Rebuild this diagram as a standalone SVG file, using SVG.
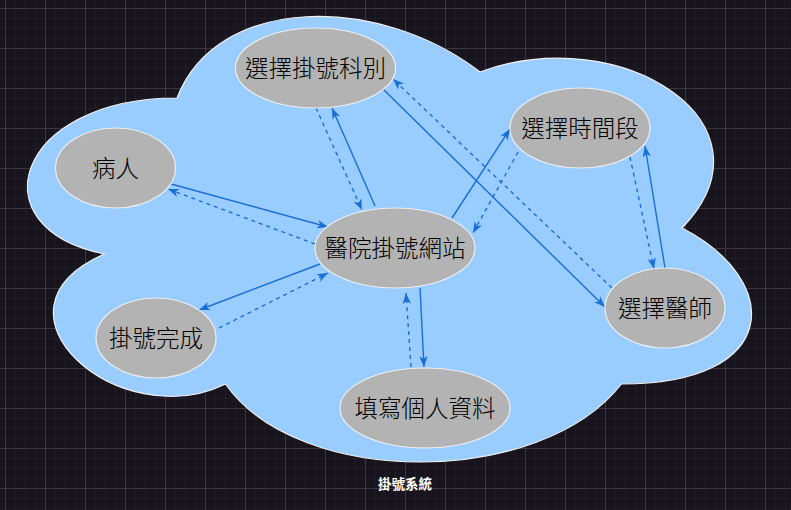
<svg xmlns="http://www.w3.org/2000/svg" width="791" height="510" viewBox="0 0 791 510">
  <defs>
    <pattern id="gridMinor" x="5" y="8" width="10" height="10" patternUnits="userSpaceOnUse">
      <path d="M0,0 H10 M0,0 V10" fill="none" stroke="#27232d" stroke-width="1"/>
    </pattern>
    <pattern id="gridMajor" x="5" y="8" width="40" height="40" patternUnits="userSpaceOnUse">
      <path d="M0,0.5 H40 M0.5,0 V40" fill="none" stroke="#3a3741" stroke-width="1"/>
    </pattern>
    <marker id="arrow" markerUnits="userSpaceOnUse" markerWidth="12" markerHeight="10" viewBox="0 0 12 10" refX="11" refY="5" orient="auto">
      <path d="M0,0.8 L11,5 L0,9.2 L3,5 Z" fill="#1a6fd6"/>
    </marker>
    <style>
      .node ellipse { fill: #b3b3b3; stroke: #eeeeee; stroke-width: 1.2; }
      .node text { font-family: "Noto Sans CJK TC", "Noto Sans CJK SC", sans-serif; font-size: 23.5px; font-weight: 300; fill: #000000; text-anchor: middle; dominant-baseline: central; }
      .edge { fill: none; stroke: #1a6fd6; stroke-width: 1.4; marker-end: url(#arrow); }
      .dash { stroke-dasharray: 4 4; }
      .caption { font-family: "Noto Sans CJK TC", "Noto Sans CJK SC", sans-serif; font-size: 13.5px; font-weight: bold; fill: #ffffff; text-anchor: middle; dominant-baseline: central; }
    </style>
  </defs>

  <!-- canvas with grid -->
  <rect width="791" height="510" fill="#18141d"/>
  <rect width="791" height="510" fill="url(#gridMinor)"/>
  <rect width="791" height="510" fill="url(#gridMajor)"/>

  <!-- system boundary cloud -->
  <g id="system-cloud">
    <path d="M177,98 C15.4,98 -25,228 104.3,254 C-25,311.2 120.4,436 225.5,384 C298.2,488 540.6,488 621.4,384 C783,384 783,280 682,228 C783,124 621.4,20 480,72 C379,-6 217.4,-6 177,98 Z" fill="#99ccff" stroke="#f2f2f2" stroke-width="1.2"/>
  </g>

  <!-- connectors -->
  <g id="connectors">
    <path class="edge" d="M171,184 L328,227"/>
    <path class="edge dash" d="M315,244 L168,189"/>
    <path class="edge dash" d="M316,108 L362,210"/>
    <path class="edge" d="M375,206 L332,108"/>
    <path class="edge" d="M452,218 L510,129"/>
    <path class="edge dash" d="M518,152 L473,233"/>
    <path class="edge" d="M383,89 L605,307"/>
    <path class="edge dash" d="M612,288 L393,79"/>
    <path class="edge dash" d="M630,157 L654,269"/>
    <path class="edge" d="M665,268 L645,146"/>
    <path class="edge" d="M420,288 L424,367"/>
    <path class="edge dash" d="M411,367 L406,293"/>
    <path class="edge" d="M320,264 L199,310"/>
    <path class="edge dash" d="M219,328 L328,273"/>
  </g>

  <!-- nodes -->
  <g id="node-department" class="node">
    <ellipse cx="315.5" cy="68" rx="80" ry="40"/>
    <text x="315.5" y="67">選擇掛號科別</text>
  </g>
  <g id="node-patient" class="node">
    <ellipse cx="115.5" cy="168" rx="60" ry="40"/>
    <text x="115.5" y="167">病人</text>
  </g>
  <g id="node-timeslot" class="node">
    <ellipse cx="580" cy="128" rx="70" ry="40"/>
    <text x="580" y="127">選擇時間段</text>
  </g>
  <g id="node-website" class="node">
    <ellipse cx="395" cy="248" rx="80" ry="40"/>
    <text x="395" y="247">醫院掛號網站</text>
  </g>
  <g id="node-done" class="node">
    <ellipse cx="156" cy="338" rx="60" ry="40"/>
    <text x="156" y="337">掛號完成</text>
  </g>
  <g id="node-personal" class="node">
    <ellipse cx="425" cy="408" rx="85" ry="40"/>
    <text x="425" y="407">填寫個人資料</text>
  </g>
  <g id="node-doctor" class="node">
    <ellipse cx="665" cy="308" rx="60" ry="40"/>
    <text x="665" y="307">選擇醫師</text>
  </g>

  <!-- caption -->
  <g id="caption">
    <text class="caption" x="405" y="483">掛號系統</text>
  </g>
</svg>
